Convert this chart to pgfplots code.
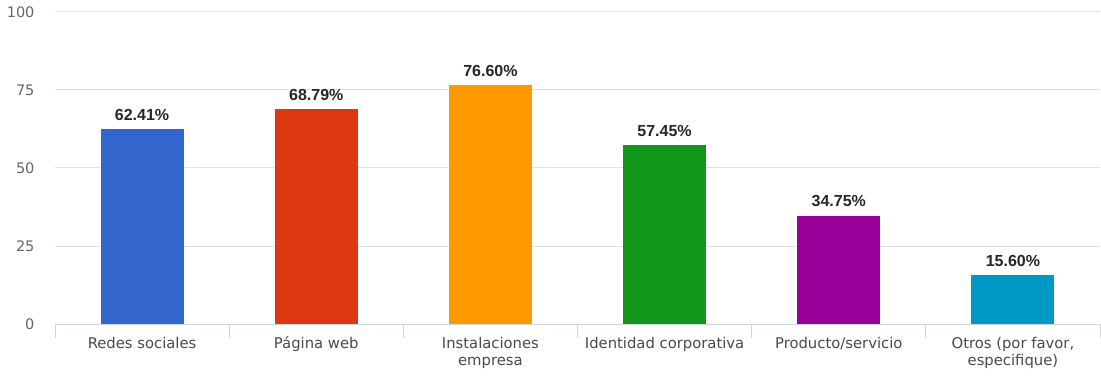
\documentclass[border=0pt]{standalone}
\usepackage{fontspec}
\setmainfont{DejaVu Sans}
\newfontfamily\lib{Liberation Sans}
\usepackage{pgfplots}
\pgfplotsset{compat=1.18}
\usetikzlibrary{calc}
\definecolor{c1}{HTML}{3366CC}
\definecolor{c2}{HTML}{DC3912}
\definecolor{c3}{HTML}{FF9900}
\definecolor{c4}{HTML}{109618}
\definecolor{c5}{HTML}{990099}
\definecolor{c6}{HTML}{0099C6}
\definecolor{gridc}{HTML}{E2E2E2}
\definecolor{basec}{HTML}{CCD6E0}
\definecolor{labc}{HTML}{4A4A4A}
\begin{document}
\begin{tikzpicture}
\begin{axis}[
  name=ax,
  scale only axis,
  width=1045pt, height=312pt,
  xmin=-0.5, xmax=5.5,
  ymin=0, ymax=100,
  ybar, bar width=83pt, bar shift=0pt,
  axis lines*=left,
  y axis line style={draw=none},
  x axis line style={draw=basec, line width=1pt},
  ytick={0,25,50,75,100},
  ymajorgrids,
  grid style={gridc, line width=1pt},
  major tick length=0pt,
  xtick={0,1,2,3,4,5},
  xticklabels={Redes sociales,Página web,{Instalaciones\\empresa},Identidad corporativa,Producto/servicio,{Otros (por favor,\\especifique)}},
  minor xtick={-0.5,0.5,1.5,2.5,3.5,4.5,5.5},
  minor tick length=14pt,
  tick align=outside,
  minor tick style={draw=basec, line width=1pt},
  /pgf/number format/assume math mode=true,
  xticklabel style={font=\fontsize{14.8}{17}\selectfont, text=labc, align=center, anchor=north, yshift=-9pt},
  typeset ticklabels with strut,
  yticklabel style={font=\fontsize{14.5}{17}\selectfont, text=labc!85, xshift=-17pt, yshift=-2.5pt},
  nodes near coords,
  point meta=explicit symbolic,
  every node near coord/.append style={font=\lib\bfseries\fontsize{16}{18}\selectfont, text=black!85, yshift=5pt},
  clip=false,
]
\addplot[fill=c1, draw=none] coordinates {(0,62.41) [62.41\%]};
\addplot[fill=c2, draw=none] coordinates {(1,68.79) [68.79\%]};
\addplot[fill=c3, draw=none] coordinates {(2,76.60) [76.60\%]};
\addplot[fill=c4, draw=none] coordinates {(3,57.45) [57.45\%]};
\addplot[fill=c5, draw=none] coordinates {(4,34.75) [34.75\%]};
\addplot[fill=c6, draw=none] coordinates {(5,15.60) [15.60\%]};
\end{axis}
\pgfresetboundingbox
\path[use as bounding box] ($(ax.south west)+(-55pt,-53pt)$) rectangle ($(ax.north east)+(1pt,12pt)$);
\end{tikzpicture}
\end{document}
